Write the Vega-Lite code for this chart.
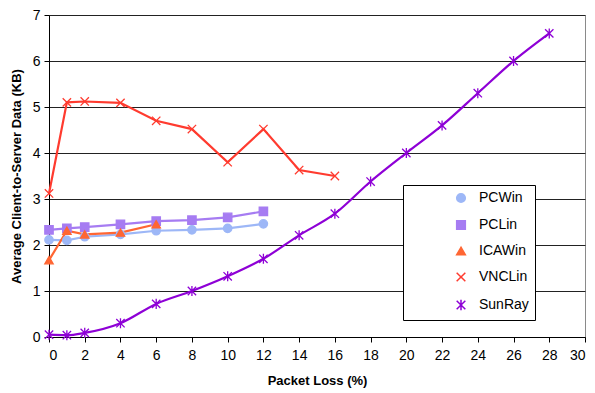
{
  "$schema": "https://vega.github.io/schema/vega-lite/v6.json",
  "width": 536,
  "height": 322,
  "autosize": {"type": "none"},
  "padding": {"left": 49, "top": 15, "right": 10, "bottom": 56},
  "background": "white",
  "config": {
    "font": "Liberation Sans",
    "view": {"stroke": "#8a8a8a", "strokeWidth": 1},
    "axis": {"labelFont": "Liberation Sans", "titleFont": "Liberation Sans", "labelColor": "#000", "titleColor": "#000", "domainColor": "#000", "tickColor": "#000", "labelFontSize": 14, "titleFontSize": 13, "titleFontWeight": "bold"}
  },
  "data": {"values": [
    {"series": "PCWin", "x": 0, "y": 2.11}, {"series": "PCWin", "x": 1, "y": 2.1}, {"series": "PCWin", "x": 2, "y": 2.18}, {"series": "PCWin", "x": 4, "y": 2.23}, {"series": "PCWin", "x": 6, "y": 2.31}, {"series": "PCWin", "x": 8, "y": 2.33}, {"series": "PCWin", "x": 10, "y": 2.36}, {"series": "PCWin", "x": 12, "y": 2.46},
    {"series": "PCLin", "x": 0, "y": 2.33}, {"series": "PCLin", "x": 1, "y": 2.36}, {"series": "PCLin", "x": 2, "y": 2.39}, {"series": "PCLin", "x": 4, "y": 2.45}, {"series": "PCLin", "x": 6, "y": 2.52}, {"series": "PCLin", "x": 8, "y": 2.54}, {"series": "PCLin", "x": 10, "y": 2.6}, {"series": "PCLin", "x": 12, "y": 2.73},
    {"series": "ICAWin", "x": 0, "y": 1.67}, {"series": "ICAWin", "x": 1, "y": 2.31}, {"series": "ICAWin", "x": 2, "y": 2.23}, {"series": "ICAWin", "x": 4, "y": 2.27}, {"series": "ICAWin", "x": 6, "y": 2.45},
    {"series": "VNCLin", "x": 0, "y": 3.12}, {"series": "VNCLin", "x": 1, "y": 5.1}, {"series": "VNCLin", "x": 2, "y": 5.12}, {"series": "VNCLin", "x": 4, "y": 5.09}, {"series": "VNCLin", "x": 6, "y": 4.7}, {"series": "VNCLin", "x": 8, "y": 4.52}, {"series": "VNCLin", "x": 10, "y": 3.8}, {"series": "VNCLin", "x": 12, "y": 4.52}, {"series": "VNCLin", "x": 14, "y": 3.63}, {"series": "VNCLin", "x": 16, "y": 3.5},
    {"series": "SunRay", "x": 0, "y": 0.05}, {"series": "SunRay", "x": 1, "y": 0.04}, {"series": "SunRay", "x": 2, "y": 0.09}, {"series": "SunRay", "x": 4, "y": 0.3}, {"series": "SunRay", "x": 6, "y": 0.72}, {"series": "SunRay", "x": 8, "y": 1.0}, {"series": "SunRay", "x": 10, "y": 1.32}, {"series": "SunRay", "x": 12, "y": 1.7}, {"series": "SunRay", "x": 14, "y": 2.21}, {"series": "SunRay", "x": 16, "y": 2.68}, {"series": "SunRay", "x": 18, "y": 3.38}, {"series": "SunRay", "x": 20, "y": 4.0}, {"series": "SunRay", "x": 22, "y": 4.6}, {"series": "SunRay", "x": 24, "y": 5.3}, {"series": "SunRay", "x": 26, "y": 6.0}, {"series": "SunRay", "x": 28, "y": 6.6}
  ]},
  "encoding": {
    "x": {"field": "x", "type": "quantitative", "scale": {"domain": [0, 30], "nice": false}, "axis": {"title": "Packet Loss (%)", "values": [0,2,4,6,8,10,12,14,16,18,20,22,24,26,28,30], "grid": false, "tickSize": 5, "labelPadding": 6, "titlePadding": 12}},
    "y": {"field": "y", "type": "quantitative", "scale": {"domain": [0, 7], "nice": false}, "axis": {"title": "Average Client-to-Server Data (KB)", "values": [0,1,2,3,4,5,6,7], "grid": true, "gridColor": "#222", "gridWidth": 1, "tickSize": 5, "labelPadding": 4, "titlePadding": 9}}
  },
  "layer": [
    {
      "transform": [{"filter": "datum.series != 'SunRay'"}],
      "mark": {"type": "line", "strokeWidth": 2.2},
      "encoding": {
        "stroke": {"field": "series", "type": "nominal", "sort": ["PCWin", "PCLin", "ICAWin", "VNCLin", "SunRay"], "scale": {"domain": ["PCWin", "PCLin", "ICAWin", "VNCLin", "SunRay"], "range": ["#9DB7F7", "#A67CF2", "#FF6633", "#FF3B2F", "#8E00D6"]}}
      }
    },
    {
      "transform": [{"filter": "datum.series == 'SunRay'"}],
      "mark": {"type": "line", "strokeWidth": 2.2, "interpolate": "monotone"},
      "encoding": {
        "stroke": {"field": "series", "type": "nominal", "sort": ["PCWin", "PCLin", "ICAWin", "VNCLin", "SunRay"]}
      }
    },
    {
      "mark": {"type": "point", "size": 70, "strokeWidth": 1.3, "opacity": 1, "filled": true},
      "encoding": {
        "fill": {"field": "series", "type": "nominal", "sort": ["PCWin", "PCLin", "ICAWin", "VNCLin", "SunRay"], "scale": {"domain": ["PCWin", "PCLin", "ICAWin", "VNCLin", "SunRay"], "range": ["#9DB7F7", "#A67CF2", "#FF6633", "#FF3B2F", "#8E00D6"]},
          "legend": {"title": null, "orient": "none", "legendX": 354, "legendY": 170, "fillColor": "white", "strokeColor": "#000", "padding": 6, "rowPadding": 11, "labelFontSize": 14, "labelFont": "Liberation Sans", "labelColor": "#000", "symbolSize": 75, "symbolOffset": 45, "labelOffset": 11, "symbolStrokeWidth": 1.5}},
        "stroke": {"field": "series", "type": "nominal", "sort": ["PCWin", "PCLin", "ICAWin", "VNCLin", "SunRay"]},
        "shape": {"field": "series", "type": "nominal", "sort": ["PCWin", "PCLin", "ICAWin", "VNCLin", "SunRay"], "scale": {"domain": ["PCWin", "PCLin", "ICAWin", "VNCLin", "SunRay"], "range": ["circle", "square", "triangle-up", "M-1,-1L1,1M-1,1L1,-1", "M-1,-1L1,1M-1,1L1,-1M0,-1.2L0,1.2"]}}
      }
    }
  ]
}
